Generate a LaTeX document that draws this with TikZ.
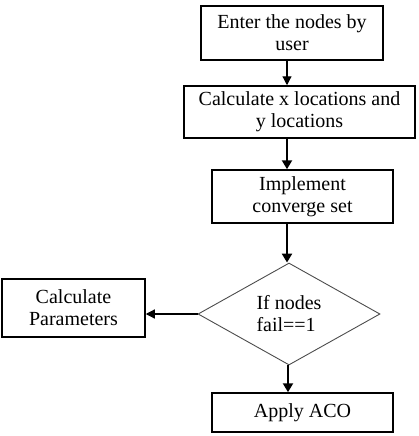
\documentclass[tikz,border=0pt]{standalone}
\usepackage{fontspec}
\setmainfont{Liberation Serif}
\usetikzlibrary{shapes.geometric,arrows.meta}

\begin{document}
\begin{tikzpicture}[x=1pt, y=-1pt,
    box/.style={draw, line width=1.5pt, align=center, inner sep=0pt,
        font=\fontsize{20}{22}\selectfont},
    decision/.style={diamond, draw=black!70, line width=0.9pt, inner sep=0pt,
        align=left, font=\fontsize{20}{22}\selectfont},
    thinarrow/.style={line width=1.2pt, -{Triangle[width=9pt,length=9pt]}},
    thickarrow/.style={line width=2.4pt, -{Triangle[width=10pt,length=9pt]}}]
    \useasboundingbox (0,0) rectangle (418,436);

    % Boxes down the middle
    \node[box, minimum width=182pt, minimum height=54pt] (enter) at (292,33)
        {Enter the nodes by\\user};
    \node[box, minimum width=231pt, minimum height=52pt] (calcxy) at (299.5,112)
        {Calculate x locations and\\y locations};
    \node[box, minimum width=181pt, minimum height=53pt] (converge) at (302.5,196.5)
        {Implement\\converge set};

    % Decision
    \node[decision, minimum width=182pt, minimum height=102pt] (fail) at (289,314)
        {If nodes\\fail==1};

    % Results
    \node[box, minimum width=143pt, minimum height=58pt] (params) at (73.5,308)
        {Calculate\\Parameters};
    \node[box, minimum width=181pt, minimum height=39pt] (aco) at (302.5,412.5)
        {Apply ACO};

    % Arrows
    \draw[thinarrow] (enter.south -| 287,0) -- (calcxy.north -| 287,0);
    \draw[thickarrow] (calcxy.south -| 287,0) -- (converge.north -| 287,0);
    \draw[thickarrow] (converge.south -| 287,0) -- (fail.north -| 287,0);
    \draw[thickarrow] (fail.south -| 288,0) -- (aco.north -| 288,0);
    \draw[thinarrow] (fail.west) -- (params.east |- fail.west);
\end{tikzpicture}
\end{document}
